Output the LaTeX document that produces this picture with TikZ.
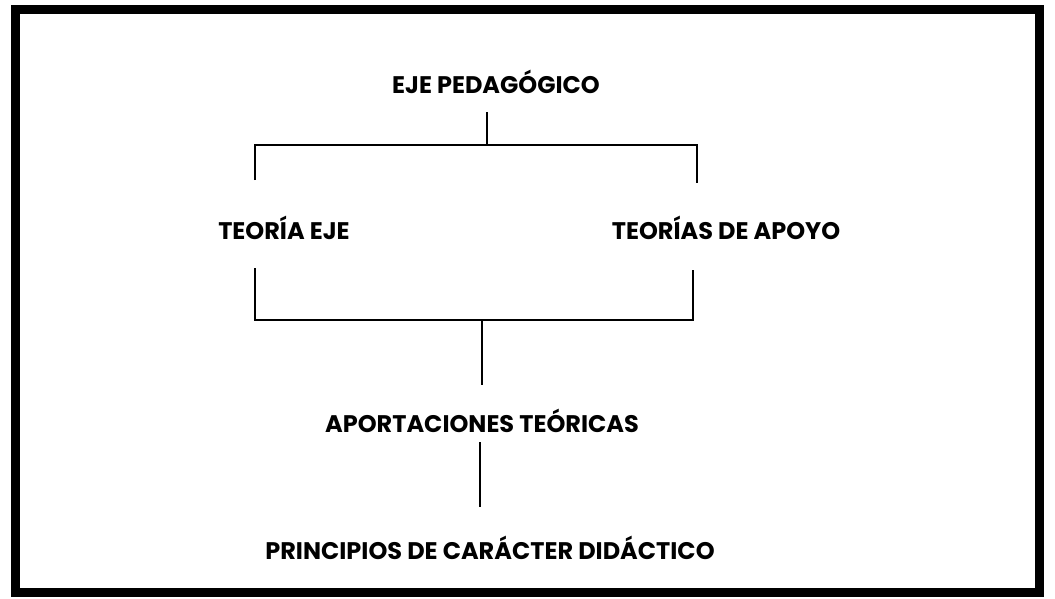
\documentclass[tikz,border=0pt]{standalone}
\usepackage{fontspec}
\setmainfont{Poppins}
\begin{document}
\begin{tikzpicture}[x=1pt,y=-1pt,
  lbl/.style={font=\bfseries\fontsize{24}{28}\selectfont, inner sep=0pt},
  con/.style={line width=1.4pt}]
\useasboundingbox (0,0) rectangle (1055,598);
\draw [line width=9pt] (15,9) rectangle (1039,592);
\node[lbl] (eje) at (496,82) {EJE PEDAGÓGICO};
\node[lbl] (teje) at (284,228) {TEORÍA EJE};
\node[lbl] (tapoyo) at (726,228) {TEORÍAS DE APOYO};
\node[lbl] (aport) at (482,421) {APORTACIONES TEÓRICAS};
\node[lbl] (princ) at (490,548) {PRINCIPIOS DE CARÁCTER DIDÁCTICO};
\coordinate (e1) at (487,112);
\coordinate (e2) at (487,145);
\coordinate (u1) at (255,180);
\coordinate (u2) at (255,145);
\coordinate (u3) at (697,145);
\coordinate (u4) at (697,183);
\coordinate (d1) at (255,268);
\coordinate (d2) at (255,320);
\coordinate (d3) at (693,320);
\coordinate (d4) at (693,270);
\draw [con] (e1) -- (e2);
\draw [con] (u1) -- (u2) -- (u3) -- (u4);
\draw [con] (d1) -- (d2) -- (d3) -- (d4);
\draw [con] (482,320) -- (482,385);
\draw [con] (480,442) -- (480,507);
\end{tikzpicture}
\end{document}
